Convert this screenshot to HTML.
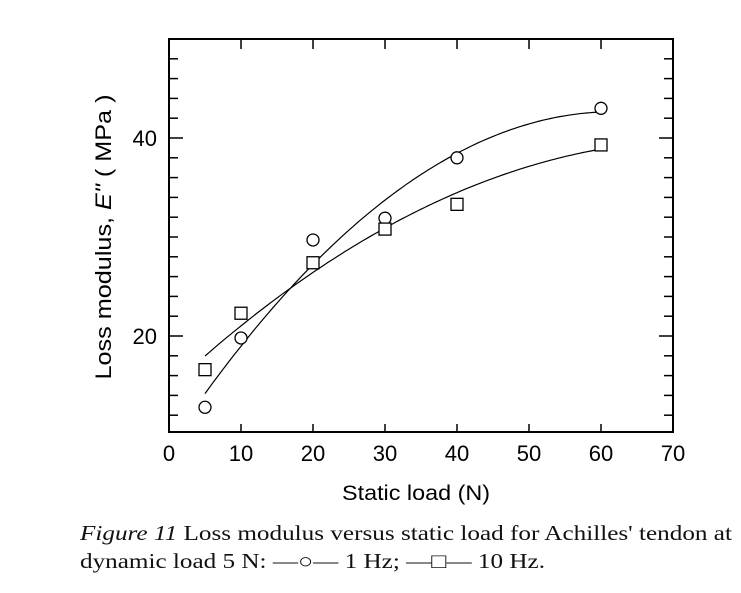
<!DOCTYPE html>
<html><head><meta charset="utf-8"><style>
body{margin:0;background:#fff;width:741px;height:593px;overflow:hidden}
svg text{font-family:"Liberation Sans",sans-serif}
svg text.cap{font-family:"Liberation Serif",serif;font-size:21px;fill:#111}
</style></head><body>
<svg id="chart" width="741" height="593" style="position:absolute;left:0;top:0">
<text class="cap" x="80" y="540" textLength="652" lengthAdjust="spacingAndGlyphs"><tspan font-style="italic">Figure 11</tspan>  Loss modulus versus static load for Achilles' tendon at</text>
<text class="cap" x="80" y="568" textLength="465" lengthAdjust="spacingAndGlyphs">dynamic load 5 N: —○—  1 Hz; —□—  10 Hz.</text>
</svg>
<script>
const xs=[5,10,20,30,40,60];
const oneHz=[12.8,19.8,29.7,31.9,38.0,43.0];
const tenHz=[16.6,22.3,27.4,30.8,33.3,39.3];
const xTicks=[0,10,20,30,40,50,60,70];
const yTicks=[20,40];
const NS='http://www.w3.org/2000/svg';
const svg=document.getElementById('chart');
const L=169,R=673,T=39,B=432;
const X=v=>L+(v-0)/70*(R-L);
const Y=v=>138+(40-v)*9.9;
function el(t,a,p){const e=document.createElementNS(NS,t);for(const k in a)e.setAttribute(k,a[k]);(p||svg).appendChild(e);return e;}
const frame=el('rect',{x:L,y:T,width:R-L,height:B-T,fill:'none',stroke:'#000','stroke-width':2});


xTicks.forEach(v=>{
  const px=X(v);
  if(v>0&&v<70){
    const t1=el('line',{x1:px,x2:px,y1:B,y2:B-8,stroke:'#000','stroke-width':1.5});
    
    
    const t2=el('line',{x1:px,x2:px,y1:T,y2:T+10,stroke:'#000','stroke-width':1.5});
    
    
  }
  const tx=el('text',{x:px,y:461,'text-anchor':'middle','font-size':22});
  tx.textContent=v;
  
  
});
for(let v=12;v<=48;v+=2){
  const py=Y(v);const len=(v%20===0)?14:9;
  const a=el('line',{x1:L,x2:L+len,y1:py,y2:py,stroke:'#000','stroke-width':1.5});
  
  
  const b=el('line',{x1:R,x2:R-len,y1:py,y2:py,stroke:'#000','stroke-width':1.5});
  
  
}
yTicks.forEach(v=>{
  const t=el('text',{x:157,y:Y(v)+8,'text-anchor':'end','font-size':22});
  t.textContent=v;
  
  
});
const xl=el('text',{x:342,y:500,'font-size':21,textLength:148,lengthAdjust:'spacingAndGlyphs'});
xl.textContent='Static load (N)';


const yl=el('text',{x:0,y:0,'text-anchor':'middle','font-size':22,textLength:285,lengthAdjust:'spacingAndGlyphs',transform:'translate(111,237) rotate(-90)'});
yl.innerHTML='Loss modulus, <tspan font-style="italic">E"</tspan> ( MPa )';


function fit(x,y){
  let S=[0,0,0,0,0],Ty=[0,0,0];
  x.forEach((xi,i)=>{for(let k=0;k<5;k++)S[k]+=xi**k;for(let k=0;k<3;k++)Ty[k]+=y[i]*xi**k;});
  const M=[[S[0],S[1],S[2],Ty[0]],[S[1],S[2],S[3],Ty[1]],[S[2],S[3],S[4],Ty[2]]];
  for(let i=0;i<3;i++){for(let j=i+1;j<3;j++){const f=M[j][i]/M[i][i];for(let k=i;k<4;k++)M[j][k]-=f*M[i][k];}}
  const c=[0,0,0];for(let i=2;i>=0;i--){let s=M[i][3];for(let k=i+1;k<3;k++)s-=M[i][k]*c[k];c[i]=s/M[i][i];}
  return v=>c[0]+c[1]*v+c[2]*v*v;
}
[[oneHz,'curve-1hz'],[tenHz,'curve-10hz']].forEach(([ys,n])=>{
  const f=fit(xs,ys);let d='';
  for(let v=xs[0];v<=xs[xs.length-1]+0.01;v+=0.5)d+=(d?'L':'M')+X(v).toFixed(1)+','+Y(f(v)).toFixed(1);
  const p=el('path',{d:d,fill:'none',stroke:'#000','stroke-width':1.2});
  
  
});
xs.forEach((v,i)=>{
  const c=el('circle',{cx:X(v),cy:Y(oneHz[i]),r:6,fill:'#fff',stroke:'#000','stroke-width':1.3});
  
  
  const s=el('rect',{x:X(v)-6,y:Y(tenHz[i])-6,width:12,height:12,fill:'#fff',stroke:'#000','stroke-width':1.3});
  
  
});
</script>
</body></html>
